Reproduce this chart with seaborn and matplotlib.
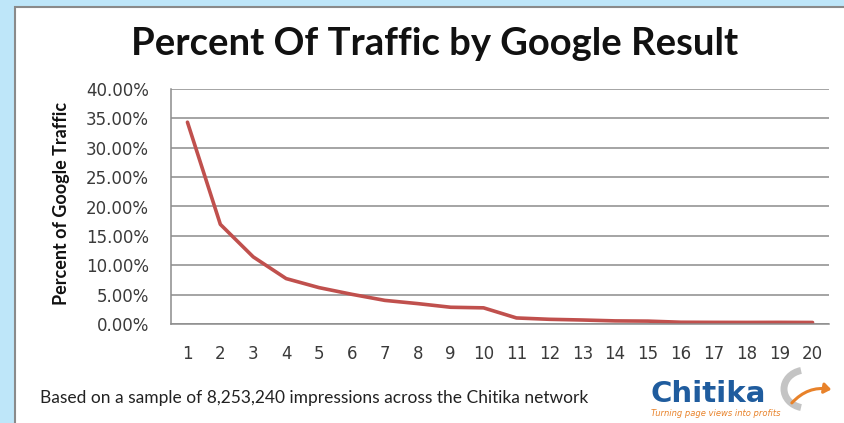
import numpy as np
import pandas as pd
import matplotlib
matplotlib.use("Agg")
import matplotlib.pyplot as plt
import seaborn as sns
from matplotlib.patches import Rectangle, Arc, FancyArrowPatch
from matplotlib.ticker import FuncFormatter

# Data: share of Google traffic per result position
positions = list(range(1, 21))
traffic_pct = [34.35, 16.96, 11.42, 7.73, 6.19, 5.05, 4.02, 3.47, 2.85, 2.75,
               1.03, 0.80, 0.68, 0.53, 0.49, 0.30, 0.28, 0.27, 0.28, 0.26]
y_ticks = [0, 5, 10, 15, 20, 25, 30, 35, 40]

title = "Percent Of Traffic by Google Result"
y_label = "Percent of Google Traffic"
footer = "Based on a sample of 8,253,240 impressions across the Chitika network"

df = pd.DataFrame({"position": positions, "traffic": traffic_pct})

sns.set_style("white")
plt.rcParams['font.family'] = ['DejaVu Sans']

W, H = 844, 423
fig = plt.figure(figsize=(W / 100, H / 100), dpi=100)
fig.patch.set_facecolor("#bee6f9")

# white panel with grey edge on the left / top
fig.patches.append(Rectangle((15 / W, -0.1), 1, 1.1 - 7 / H, transform=fig.transFigure,
                             facecolor="white", edgecolor="#8a8a8a", linewidth=1.5, zorder=-5))

ax = fig.add_axes([171 / W, (H - 324) / H, (829 - 171) / W, (324 - 89) / H])
sns.lineplot(data=df, x="position", y="traffic", ax=ax, color="#c0504d", linewidth=2.6)

ax.set_xlim(0.5, 20.5)
ax.set_ylim(0, 40)
ax.set_xticks(positions)
ax.set_yticks(y_ticks)
ax.yaxis.set_major_formatter(FuncFormatter(lambda v, p: f"{v:.2f}%"))
ax.grid(axis="y", color="#8c8c8c", linewidth=1.1)
ax.set_axisbelow(True)
for s in ["top", "right"]:
    ax.spines[s].set_visible(False)
for s in ["left", "bottom"]:
    ax.spines[s].set_color("#8c8c8c")
    ax.spines[s].set_linewidth(1.1)
ax.tick_params(axis="both", length=0, labelsize=12, labelcolor="#3a3a3a")
ax.tick_params(axis="y", pad=16)
ax.tick_params(axis="x", pad=15)
ax.set_xlabel("")
ax.set_ylabel("")
ax.patch.set_alpha(0)

fig.text(435 / W, 1 - 44 / H, title, ha="center", va="center",
         fontsize=27.5, fontweight="bold", family="Lato", color="#111111")
fig.text(62 / W, 1 - 203 / H, y_label, ha="center", va="center", rotation=90,
         fontsize=13, fontweight="bold", family="Lato", color="#111111")
fig.text(40 / W, 1 - 398 / H, footer, ha="left", va="center",
         fontsize=12.5, family="Lato", color="#222222")

# Chitika logo
fig.text(650 / W, 1 - 394 / H, "Chitika", ha="left", va="center",
         fontsize=21, fontweight="bold", family="DejaVu Sans", color="#1f5c9e")
fig.text(651 / W, 1 - 413 / H, "Turning page views into profits", ha="left", va="center",
         fontsize=6, style="italic", family="DejaVu Sans", color="#e8822a")
# swoosh, drawn in pixel-like coordinates
lax = fig.add_axes([770 / W, 0, 74 / W, 63 / H])
lax.set_xlim(770, 844)
lax.set_ylim(423, 360)
lax.axis("off")
lax.add_patch(Arc((806, 389), 44, 38, theta1=105, theta2=255, color="#c4c4c4", linewidth=5))
lax.add_patch(FancyArrowPatch((790, 405), (834, 390), connectionstyle="arc3,rad=-0.3",
                              arrowstyle="-|>,head_length=4,head_width=3",
                              color="#e8822a", linewidth=2.2))

fig.savefig("out.png", dpi=100, facecolor=fig.get_facecolor())
